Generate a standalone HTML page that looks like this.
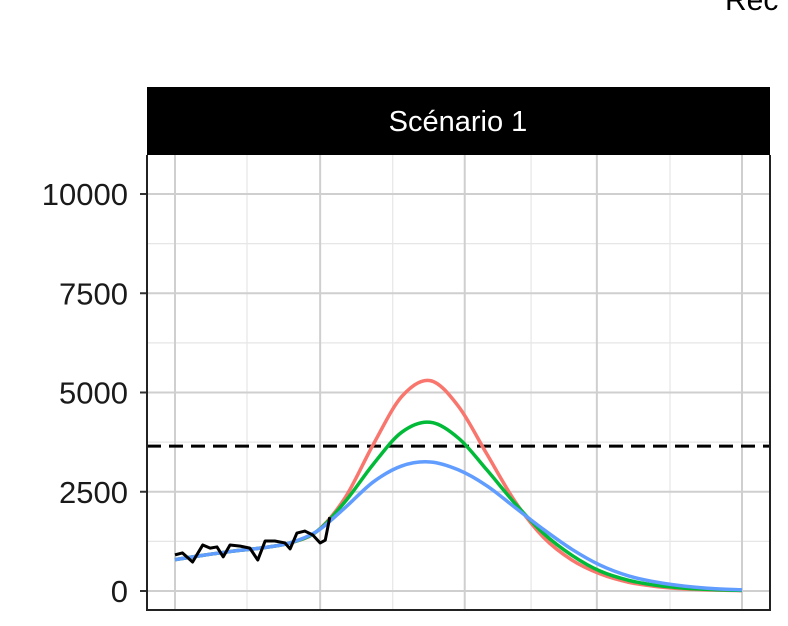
<!DOCTYPE html>
<html><head><meta charset="utf-8"><style>
body{margin:0;background:#fff;width:788px;height:621px;overflow:hidden;font-family:"Liberation Sans",sans-serif}
</style></head><body>
<svg id="c" width="788" height="621" font-family="Liberation Sans, sans-serif">
<text x="725" y="10" font-size="30" fill="#000">Rec</text>
<rect x="147" y="87" width="623" height="68" fill="#000"/>
<text x="458" y="131" font-size="29" fill="#fff" text-anchor="middle">Scénario 1</text>
<g id="grid"></g><g id="marks"></g><g id="axes"></g>
</svg>
<script>
const yTicks=[0,2500,5000,7500,10000];
const yMinor=[1250,3750,6250,8750];
const xMajor=[0,25.6,51.1,74.4,100];
const xMinor=[12.7,38.4,62.8,87.3];
const threshold=3650;
const obsT=[0,1.3,3.1,4.9,6.2,7.4,8.5,9.7,11.5,13.2,14.6,15.9,17.6,19.4,20.3,21.5,22.9,24.3,25.6,26.5,27.3];
const obsV=[910,960,730,1160,1080,1110,860,1160,1130,1080,780,1260,1260,1210,1060,1460,1510,1410,1210,1280,1860];
const simT=[0,5,10,15,20,25,30,35,40,45,50,55,60,65,70,75,80,85,90,95,100];
const blueV=[790,900,1000,1080,1200,1500,2100,2750,3150,3250,3050,2650,2100,1550,1050,650,380,220,120,60,30];
const greenV=[790,900,1000,1080,1200,1500,2250,3200,4000,4250,3850,3050,2200,1450,900,500,270,140,70,35,15];
const redV=[790,900,1000,1080,1200,1500,2350,3700,4900,5300,4650,3450,2250,1350,780,430,220,110,50,25,10];
const X=t=>175+t*5.67, Y=v=>591-v*0.0397;
const NS='http://www.w3.org/2000/svg';
function mk(tag,attrs,parent){const e=document.createElementNS(NS,tag);for(const k in attrs)e.setAttribute(k,attrs[k]);document.getElementById(parent).appendChild(e);return e;}
function smooth(ts,vs){const p=ts.map((t,i)=>[X(t),Y(vs[i])]);let d='M'+p[0];for(let i=0;i<p.length-1;i++){const a=p[i-1]||p[i],b=p[i],c=p[i+1],e=p[i+2]||c;d+='C'+(b[0]+(c[0]-a[0])/6)+','+(b[1]+(c[1]-a[1])/6)+' '+(c[0]-(e[0]-b[0])/6)+','+(c[1]-(e[1]-b[1])/6)+' '+c[0]+','+c[1];}return d;}
yMinor.forEach(v=>{const l=mk('line',{x1:147,x2:770,y1:Y(v),y2:Y(v),stroke:'#e6e6e6','stroke-width':1.2},'grid');

});
xMinor.forEach(t=>{const l=mk('line',{x1:X(t),x2:X(t),y1:155,y2:610,stroke:'#e6e6e6','stroke-width':1.2},'grid');

});
yTicks.forEach(v=>{const l=mk('line',{x1:147,x2:770,y1:Y(v),y2:Y(v),stroke:'#cfcfcf','stroke-width':2},'grid');


const tk=mk('line',{x1:140,x2:147,y1:Y(v),y2:Y(v),stroke:'#333','stroke-width':2},'axes');


const tx=mk('text',{x:128,y:Y(v)+11,'font-size':31,'text-anchor':'end',fill:'#1a1a1a'},'axes');tx.textContent=v;

});
xMajor.forEach(t=>{const l=mk('line',{x1:X(t),x2:X(t),y1:155,y2:610,stroke:'#cfcfcf','stroke-width':2},'grid');

});
const dl=mk('line',{x1:147,x2:770,y1:Y(threshold),y2:Y(threshold),stroke:'#000','stroke-width':3,'stroke-dasharray':'14,8'},'marks');


[['red-series',redV,'#f8766d'],['green-series',greenV,'#00ba38'],['blue-series',blueV,'#619cff']].forEach(([n,v,c])=>{
const p=mk('path',{d:smooth(simT,v),fill:'none',stroke:c,'stroke-width':3.5},'marks');

});
const ob=mk('polyline',{points:obsT.map((t,i)=>X(t)+','+Y(obsV[i])).join(' '),fill:'none',stroke:'#000','stroke-width':3,'stroke-linejoin':'round'},'marks');


const ax=mk('path',{d:'M147,155V610H770V155',fill:'none',stroke:'#222','stroke-width':2},'axes');


</script>
</body></html>
